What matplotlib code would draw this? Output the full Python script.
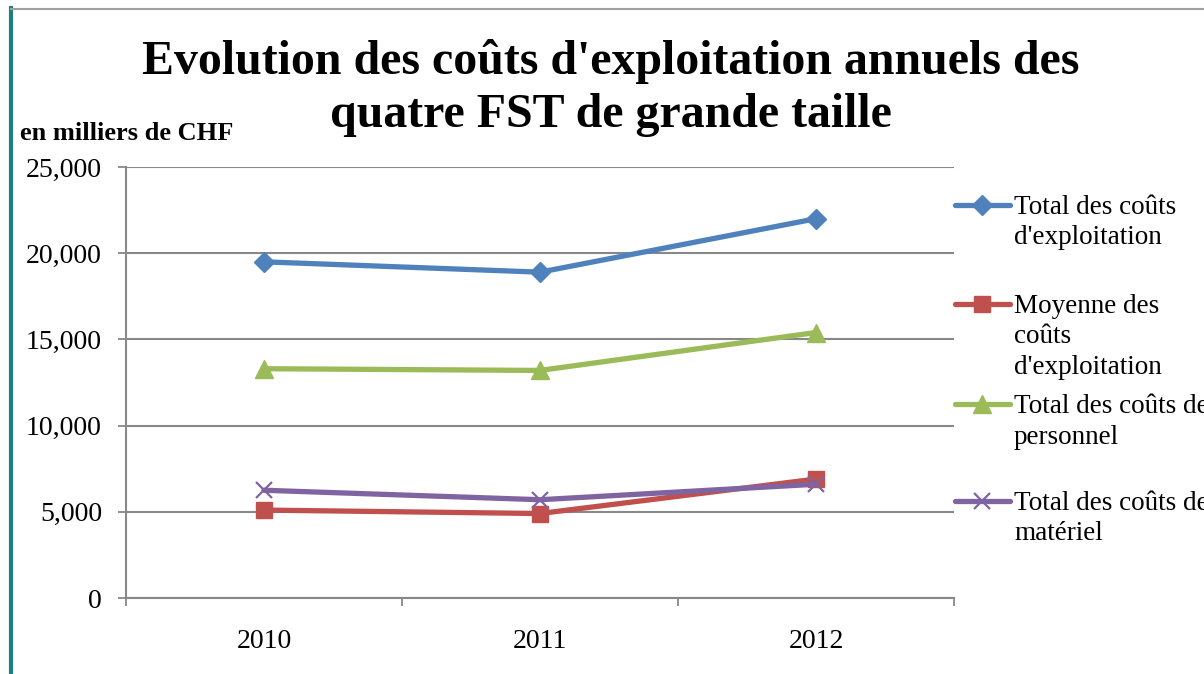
import numpy as np
import matplotlib.pyplot as plt
from matplotlib.lines import Line2D

plt.rcParams['font.family'] = ['Liberation Serif', 'DejaVu Serif']

# valeurs en milliers de CHF
years = ['2010', '2011', '2012']
total_exploitation = [19500, 18900, 22000]
moyenne_exploitation = [5100, 4900, 6900]
total_personnel = [13300, 13200, 15400]
total_materiel = [6250, 5700, 6600]

labels = ["Total des coûts\nd'exploitation",
          "Moyenne des\ncoûts\nd'exploitation",
          "Total des coûts de\npersonnel",
          "Total des coûts de\nmatériel"]
series = [total_exploitation, moyenne_exploitation, total_personnel, total_materiel]
colors = ['#4F81BD', '#C0504D', '#9BBB59', '#8064A2']
markers = ['D', 's', '^', 'x']
msizes = [10.5, 11, 13, 11]

W, H = 1204, 674
fig = plt.figure(figsize=(W / 100, H / 100), dpi=100)


def fx(px):
    return px / W


def fy(py):
    return 1 - py / H


ax = fig.add_axes([fx(126), fy(598), fx(954) - fx(126), fy(167) - fy(598)])

x = np.arange(len(years))
for s, c, m, ms in zip(series, colors, markers, msizes):
    ax.plot(x, s, color=c, lw=3.8, marker=m, ms=ms, mec=c, mew=1.6 if m == 'x' else 1,
            solid_capstyle='round', clip_on=False, zorder=3)

ax.set_xlim(-0.5, 2.5)
ax.set_ylim(0, 25000)
ax.set_yticks(np.arange(0, 25001, 5000))
ax.set_yticklabels([f'{v:,}' for v in range(0, 25001, 5000)], fontsize=20)
ax.set_xticks(x)
ax.set_xticklabels(years, fontsize=20)
ax.set_xticks([-0.5, 0.5, 1.5, 2.5], minor=True)
ax.tick_params(axis='x', which='major', length=0, pad=22)
ax.tick_params(axis='x', which='minor', length=6, color='#888888', width=1.3)
ax.tick_params(axis='y', length=5.8, color='#888888', width=1.3, pad=11.5)
ax.grid(axis='y', color='#888888', lw=1.5)
ax.set_axisbelow(True)
for side in ['top', 'right']:
    ax.spines[side].set_visible(False)
for side in ['left', 'bottom']:
    ax.spines[side].set_color('#888888')
    ax.spines[side].set_linewidth(1.5)

# va='baseline' aligns the last line of a multi-line text
fig.text(fx(611), fy(127), "Evolution des coûts d'exploitation annuels des\nquatre FST de grande taille",
         ha='center', va='baseline', fontsize=34.5, fontweight='bold', linespacing=1.27)
fig.text(fx(20), fy(140), 'en milliers de CHF', ha='left', va='baseline', fontsize=19, fontweight='bold')

# légende
leg_y = [205, 304, 404, 501]
for ly, lab, c, m, ms in zip(leg_y, labels, colors, markers, msizes):
    fig.add_artist(Line2D([fx(955), fx(1010)], [fy(ly), fy(ly)], transform=fig.transFigure,
                          color=c, lw=3.8, solid_capstyle='round'))
    fig.add_artist(Line2D([fx(982)], [fy(ly)], transform=fig.transFigure, color=c,
                          marker=m, ms=ms, mec=c, mew=1.6 if m == 'x' else 1, lw=0))
    nlines = lab.count('\n')
    fig.text(fx(1014), fy(ly + 9 + nlines * 30.5), lab, ha='left', va='baseline',
             fontsize=19.5, linespacing=1.3)

# cadre
fig.add_artist(Line2D([fx(11), fx(11)], [fy(8), 0], transform=fig.transFigure, color='#1F7F80', lw=3))
fig.add_artist(Line2D([fx(11), 1], [fy(9), fy(9)], transform=fig.transFigure, color='#A0A0A0', lw=1.5))

fig.savefig('out.png', dpi=100)
